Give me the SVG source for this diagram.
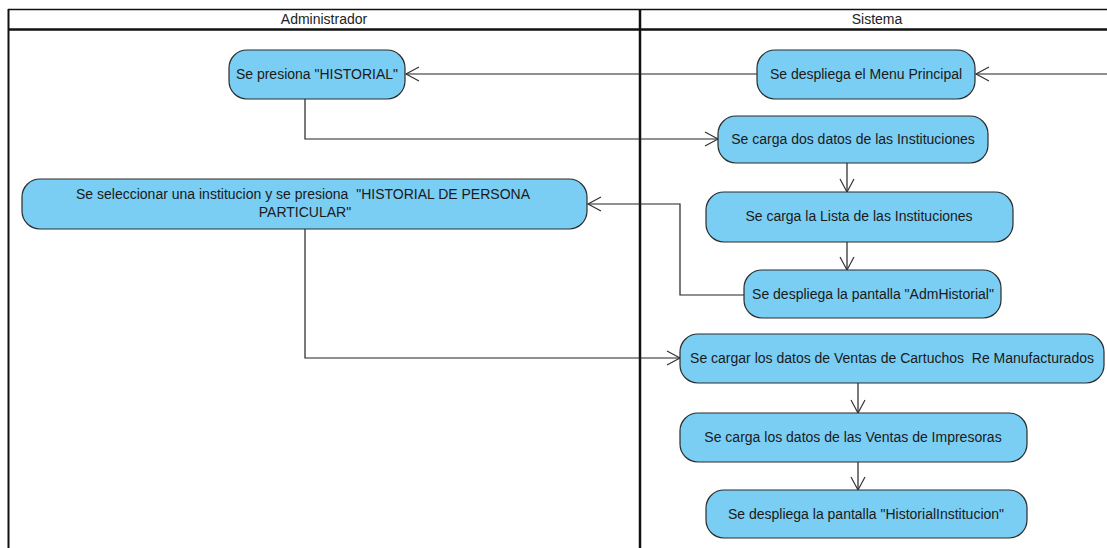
<svg xmlns="http://www.w3.org/2000/svg" width="1107" height="548" viewBox="0 0 1107 548">
<defs>
<marker id="arr" markerWidth="18" markerHeight="18" refX="14" refY="8" orient="auto" markerUnits="userSpaceOnUse">
<path d="M1,1 L14,8 L1,15" fill="none" stroke="#333" stroke-width="1.2"/>
</marker>
</defs>
<style>
.node rect{fill:#7ACEF4;stroke:#2b2b2b;stroke-width:1.2}
.node text{font-family:"Liberation Sans",Arial,sans-serif;font-size:14px;fill:#1a1a1a;text-anchor:middle;white-space:pre}
.hdr{font-family:"Liberation Sans",Arial,sans-serif;font-size:14px;fill:#222;text-anchor:middle}
.conn path{fill:none;stroke:#222;stroke-width:1.2;marker-end:url(#arr)}
.lane{stroke:#111;fill:none}
</style>
<rect width="1107" height="548" fill="#fff"/>
<g id="swimlanes">
<line class="lane" x1="8" y1="9.5" x2="1107" y2="9.5" stroke-width="1.5"/>
<line class="lane" x1="8" y1="29.5" x2="1107" y2="29.5" stroke-width="2.5"/>
<line class="lane" x1="8.5" y1="9" x2="8.5" y2="548" stroke-width="2"/>
<line class="lane" x1="640" y1="9" x2="640" y2="548" stroke-width="2.5"/>
<text class="hdr" x="324" y="24">Administrador</text>
<text class="hdr" x="877" y="24">Sistema</text>
</g>
<g id="connectors" class="conn">
<path d="M1107,74 L976,74"/>
<path d="M757,74 L406,74"/>
<path d="M305,99 L305,139 L718,139"/>
<path d="M847,163 L847,192"/>
<path d="M847,242 L847,270"/>
<path d="M744,295 L680,295 L680,204 L588,204"/>
<path d="M305,229 L305,358 L680,358"/>
<path d="M858,383 L858,413"/>
<path d="M858,462 L858,490"/>
</g>
<g id="n1" class="node"><rect x="229" y="50" width="176" height="49" rx="18"/><text x="317" y="79">Se presiona "HISTORIAL"</text></g>
<g id="n2" class="node"><rect x="757" y="50" width="218" height="49" rx="18"/><text x="866" y="79">Se despliega el Menu Principal</text></g>
<g id="n3" class="node"><rect x="718" y="116" width="270" height="47" rx="18"/><text x="853" y="144">Se carga dos datos de las Instituciones</text></g>
<g id="n4" class="node"><rect x="22" y="179" width="565" height="50" rx="18"/><text x="303" y="199" xml:space="preserve">Se seleccionar una institucion y se presiona  "HISTORIAL DE PERSONA</text><text x="305" y="217">PARTICULAR"</text></g>
<g id="n5" class="node"><rect x="706" y="192" width="307" height="50" rx="18"/><text x="859" y="221">Se carga la Lista de las Instituciones</text></g>
<g id="n6" class="node"><rect x="744" y="270" width="257" height="48" rx="18"/><text x="873" y="299">Se despliega la pantalla "AdmHistorial"</text></g>
<g id="n7" class="node"><rect x="680" y="334" width="424" height="49" rx="18"/><text x="892" y="363" xml:space="preserve">Se cargar los datos de Ventas de Cartuchos  Re Manufacturados</text></g>
<g id="n8" class="node"><rect x="680" y="413" width="347" height="49" rx="18"/><text x="853" y="442">Se carga los datos de las Ventas de Impresoras</text></g>
<g id="n9" class="node"><rect x="706" y="490" width="321" height="48" rx="18"/><text x="866" y="519">Se despliega la pantalla "HistorialInstitucion"</text></g>
</svg>
